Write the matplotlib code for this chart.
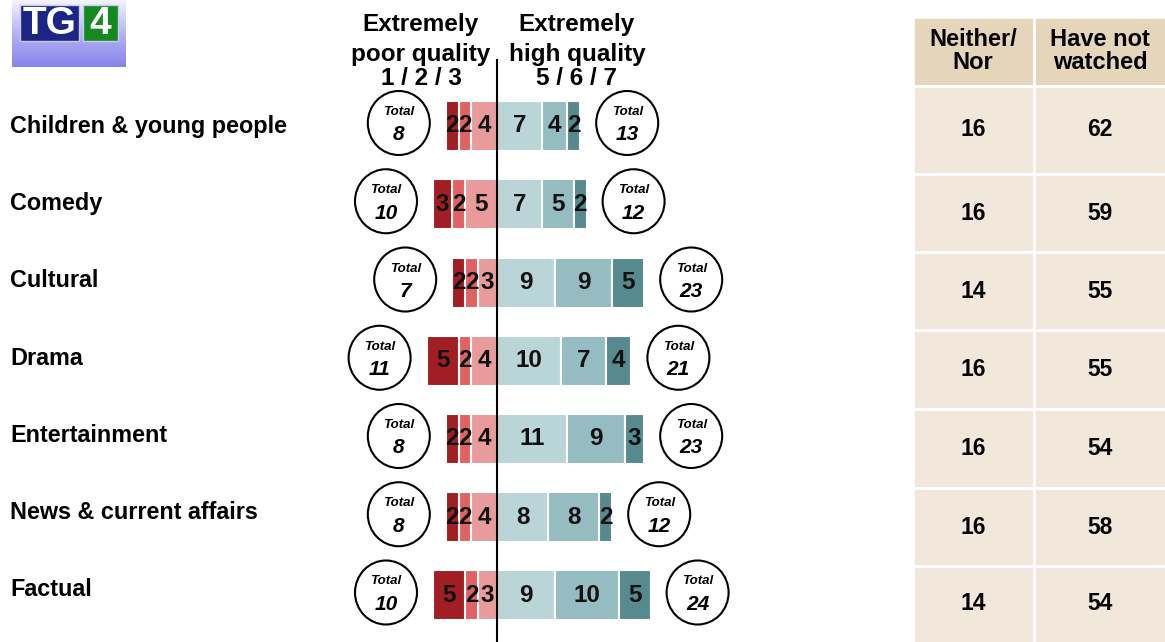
import numpy as np
import matplotlib.pyplot as plt
from matplotlib.patches import Rectangle, Ellipse
from matplotlib.colors import LinearSegmentedColormap

plt.rcParams['font.family'] = ['Liberation Sans', 'DejaVu Sans']

genres = ["Children & young people", "Comedy", "Cultural", "Drama",
          "Entertainment", "News & current affairs", "Factual"]
poor_1 = [2, 3, 2, 5, 2, 2, 5]
poor_2 = [2, 2, 2, 2, 2, 2, 2]
poor_3 = [4, 5, 3, 4, 4, 4, 3]
high_5 = [7, 7, 9, 10, 11, 8, 9]
high_6 = [4, 5, 9, 7, 9, 8, 10]
high_7 = [2, 2, 5, 4, 3, 2, 5]
total_poor = [8, 10, 7, 11, 8, 8, 10]
total_high = [13, 12, 23, 21, 23, 12, 24]
neither = [16, 16, 14, 16, 16, 16, 14]
not_watched = [62, 59, 55, 55, 54, 58, 54]
table_head = ["Neither/\nNor", "Have not\nwatched"]

W, H = 1165, 642
fig = plt.figure(figsize=(W / 100, H / 100), dpi=100)

# full-figure axes in pixel units for the logo, labels and table
bg = fig.add_axes([0, 0, 1, 1])
bg.axis('off')

# logo
grad = np.linspace(0, 1, 100).reshape(-1, 1)
lav = LinearSegmentedColormap.from_list('lav', ['#f4f4fd', '#b4b2f3', '#8683ec'])
bg.imshow(grad, cmap=lav, extent=[12, 126, 67, 0], aspect='auto', zorder=1)
bg.add_patch(Rectangle((20, 5), 59, 36, fc='#1b2585', ec='#c8c8f0', lw=1, zorder=2))
bg.add_patch(Rectangle((83, 5), 35, 36, fc='#13891f', ec='#c8c8f0', lw=1, zorder=2))
bg.text(49.5, 24, "TG", color='white', fontsize=28, fontweight='bold',
        ha='center', va='center', zorder=3)
bg.text(100.5, 24, "4", color='white', fontsize=28, fontweight='bold',
        ha='center', va='center', zorder=3)

# genre labels
for i, g in enumerate(genres):
    bg.text(10, 133 + 77.2 * i, g, fontsize=16.8, fontweight='bold', va='baseline')

# headers above the bars
for cx, lines in [(421, ["Extremely", "poor quality", "1 / 2 / 3"]),
                  (577, ["Extremely", "high quality", "5 / 6 / 7"])]:
    for yb, s in zip([31, 61, 85], lines):
        bg.text(cx, yb, s, fontsize=17.5, fontweight='bold', ha='center', va='baseline')

# table on the right
col_x = [913, 1034]
col_w = [121, 140]
col_c = [973, 1100]
row_edges = [86, 174, 252, 330, 409, 488, 566, 650]
for cx, cw, cc, head in zip(col_x, col_w, col_c, table_head):
    bg.add_patch(Rectangle((cx, 17), cw, 69, fc='#e5d5bb', ec='white', lw=2))
    bg.text(cc, 51, head, fontsize=17, fontweight='bold',
            ha='center', va='center', linespacing=0.95)
for j, (a, b) in enumerate(zip(neither, not_watched)):
    top, bot = row_edges[j], row_edges[j + 1]
    for cx, cw in zip(col_x, col_w):
        bg.add_patch(Rectangle((cx, top), cw, bot - top, fc='#f1e8db', ec='white', lw=2))
    yc = (top + bot) / 2 if j < 6 else 603
    for cc, v in zip(col_c, [a, b]):
        bg.text(cc, yc, str(v), fontsize=16.5, fontweight='bold', ha='center', va='center')

bg.set_xlim(0, W)
bg.set_ylim(H, 0)

# bar panel: x in percentage points, y in rows
px = 6.4
x0 = 497
row0, row_h = 126, 78.25
lpx, rpx = 330, 770
ax = fig.add_axes([lpx / W, 0, (rpx - lpx) / W, 1])
ax.set_xlim((lpx - x0) / px, (rpx - x0) / px)
ax.set_ylim((H - row0) / row_h, -row0 / row_h)
ax.axis('off')

y = np.arange(len(genres))
bh = 50 / row_h
neg_colors = ['#e99a9a', '#e06262', '#a11f24']
pos_colors = ['#b9d5d8', '#95bcc0', '#578a8f']

start = np.zeros(len(genres))
for vals, c in zip([poor_3, poor_2, poor_1], neg_colors):
    v = np.array(vals)
    ax.barh(y, -v, left=-start, height=bh, color=c, edgecolor='white', linewidth=1.5)
    for yi, s, vi in zip(y, start, v):
        ax.text(-(s + vi / 2), yi, str(vi), fontsize=17.5, fontweight='bold',
                ha='center', va='center', color='#111111')
    start += v
neg_end = start.copy()

start = np.zeros(len(genres))
for vals, c in zip([high_5, high_6, high_7], pos_colors):
    v = np.array(vals)
    ax.barh(y, v, left=start, height=bh, color=c, edgecolor='white', linewidth=1.5)
    for yi, s, vi in zip(y, start, v):
        ax.text(s + vi / 2, yi, str(vi), fontsize=17.5, fontweight='bold',
                ha='center', va='center', color='#111111')
    start += v
pos_end = start.copy()

# total bubbles either side
gap = 47 / px
for yi, ne, pe, tn, tp in zip(y, neg_end, pos_end, total_poor, total_high):
    for cx, t in [(-(ne + gap), tn), (pe + gap, tp)]:
        cy = yi - 3 / row_h
        ax.add_patch(Ellipse((cx, cy), 62 / px, 64 / row_h, fc='white',
                             ec='black', lw=1.5, zorder=3))
        ax.text(cx, cy - 11 / row_h, "Total", fontsize=9.5, fontweight='bold', style='italic',
                ha='center', va='center', zorder=4)
        ax.text(cx, cy + 12 / row_h, str(t), fontsize=15, fontweight='bold', style='italic',
                ha='center', va='center', zorder=4)

ax.plot([0, 0], [(60 - row0) / row_h, (H - row0) / row_h], color='black', lw=1.5, zorder=2)

fig.savefig('out.png', dpi=100)
